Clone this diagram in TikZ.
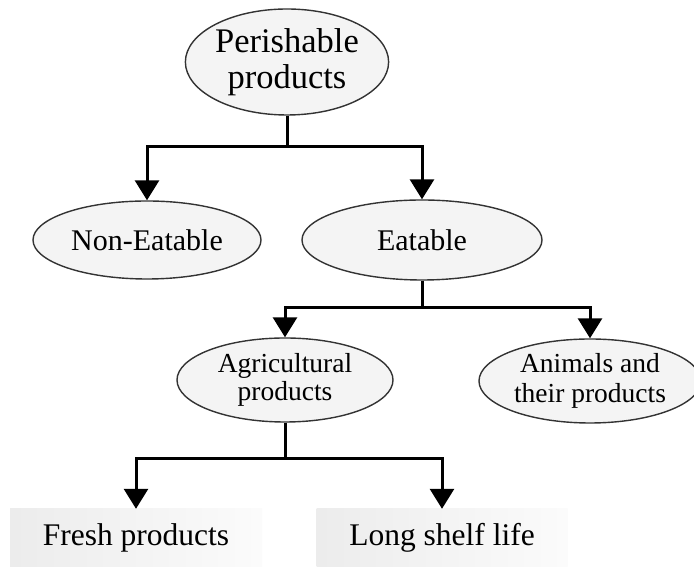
\documentclass[tikz,border=0pt]{standalone}
\usepackage{fontspec}
\setmainfont{Liberation Serif}
\usetikzlibrary{arrows.meta}
\usetikzlibrary{shapes.geometric}
\tikzset{link/.style={line width=3pt}}
\tikzset{arr/.style={link,-{Triangle[width=24pt,length=20pt]}}}
\tikzset{item/.style={ellipse,draw=black!80,line width=1.4pt,fill=gray!9,inner sep=0pt,align=center}}
\tikzset{leaf/.style={rectangle,inner sep=0pt,left color=gray!15,right color=gray!3,minimum height=58pt}}

\begin{document}
\begin{tikzpicture}[x=1pt,y=1pt]
        \useasboundingbox (0,0) rectangle (694,567);
        \coordinate (j1) at (287,420);
        \coordinate (j2) at (422,259);
        \coordinate (j3) at (285,108);
        \node[item,minimum width=194pt,minimum height=106pt,font=\fontsize{34.5}{36}\selectfont] (per) at (287,505) {Perishable\\products};
        \node[item,minimum width=228pt,minimum height=78pt,font=\fontsize{30}{32}\selectfont] (non) at (147,327) {Non-Eatable};
        \node[item,minimum width=240pt,minimum height=80pt,font=\fontsize{30}{32}\selectfont] (eat) at (422,327) {Eatable};
        \node[item,minimum width=216pt,minimum height=84pt,font=\fontsize{27.5}{28}\selectfont] (agr) at (285,187) {Agricultural\\products};
        \node[item,minimum width=222pt,minimum height=84pt,font=\fontsize{27.5}{30}\selectfont] (ani) at (590,186) {Animals and\\their products};
        \node[leaf,minimum width=252pt,font=\fontsize{31.5}{32}\selectfont] (fresh) at (136,29) {Fresh products};
        \node[leaf,minimum width=251pt,font=\fontsize{31.5}{32}\selectfont] (long) at (442,29) {Long shelf life};
        % tree links
        \draw[link] (per.south) -- (j1);
        \draw[arr] (j1) -| (non.north);
        \draw[arr] (j1) -| (eat.north);
        \draw[link] (eat.south) -- (j2);
        \draw[arr] (j2) -| (agr.north);
        \draw[arr] (j2) -| (ani.north);
        \draw[link] (agr.south) -- (j3);
        \draw[arr] (j3) -| (fresh.north);
        \draw[arr] (j3) -| (long.north);
    \end{tikzpicture}
\end{document}
